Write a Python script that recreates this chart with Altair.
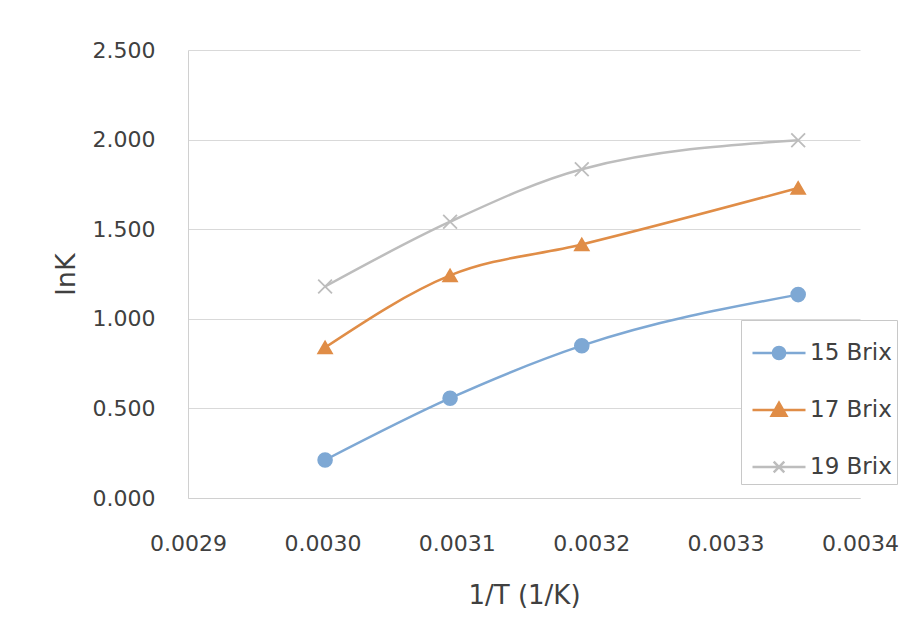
import altair as alt
import pandas as pd

# ---- data ----
inv_T = [0.003002, 0.003095, 0.003193, 0.003354]
lnk_15 = [0.212, 0.557, 0.850, 1.135]
lnk_17 = [0.840, 1.242, 1.415, 1.730]
lnk_19 = [1.180, 1.542, 1.835, 1.996]
series_names = ["15 Brix", "17 Brix", "19 Brix"]
x_ticks = [0.0029, 0.0030, 0.0031, 0.0032, 0.0033, 0.0034]
y_ticks = [0.0, 0.5, 1.0, 1.5, 2.0, 2.5]

colors = ["#7EA8D4", "#E08D47", "#BDBDBD"]

rows = []
for name, vals in zip(series_names, [lnk_15, lnk_17, lnk_19]):
    for xv, yv in zip(inv_T, vals):
        rows.append({"invT": xv, "lnK": yv, "series": name})
df = pd.DataFrame(rows)

FONT = "DejaVu Sans"
TXT = "#404040"

x_enc = alt.X(
    "invT:Q",
    scale=alt.Scale(domain=[0.0029, 0.0034], nice=False, zero=False),
    axis=alt.Axis(
        values=x_ticks, format=".4f", title="1/T (1/K)", grid=False,
        tickSize=0, labelPadding=35, labelFontSize=22, labelColor=TXT,
        labelFont=FONT, titleFont=FONT, titleFontSize=26, titleColor=TXT,
        titleFontWeight="normal", titlePadding=28,
        domainColor="#d0d0d0", labelFlush=False,
    ),
)
y_enc = alt.Y(
    "lnK:Q",
    scale=alt.Scale(domain=[0, 2.5], nice=False),
    axis=alt.Axis(
        values=y_ticks, format=".3f", title="lnK", grid=True,
        gridColor="#d9d9d9", tickSize=0, labelPadding=33, labelFontSize=22,
        labelColor=TXT, labelFont=FONT, titleFont=FONT, titleFontSize=27,
        titleColor=TXT, titleFontWeight="normal", titlePadding=12,
        domainColor="#d0d0d0",
    ),
)

color_scale = alt.Scale(domain=series_names, range=colors)

base = alt.Chart(df).encode(x=x_enc, y=y_enc)

lines = base.mark_line(interpolate="monotone", strokeWidth=2.5).encode(
    color=alt.Color("series:N", scale=color_scale, legend=None)
)

points = base.mark_point(size=190, strokeWidth=1.8, opacity=1).encode(
    fill=alt.Fill("series:N", scale=alt.Scale(domain=series_names, range=colors), legend=None),
    stroke=alt.Stroke("series:N", scale=alt.Scale(domain=series_names, range=colors), legend=None),
    shape=alt.Shape(
        "series:N",
        scale=alt.Scale(
            domain=series_names,
            range=["circle", "triangle-up", "M-1,-1L1,1M-1,1L1,-1"],
        ),
        legend=None,
    ),
)

# legend symbols: line with marker (unit = sqrt(size)/2 px)
leg_paths = [
    "M-1,0L1,0M-0.23,0A0.23,0.23,0,1,0,0.23,0A0.23,0.23,0,1,0,-0.23,0Z",
    "M-1,0L1,0M-0.28,0.22L0,-0.27L0.28,0.22Z",
    "M-1,0L1,0M-0.2,-0.2L0.2,0.2M-0.2,0.2L0.2,-0.2",
]
legend_layer = base.transform_filter("false").mark_point(opacity=1).encode(
    fill=alt.Fill("series:N", scale=alt.Scale(domain=series_names, range=colors), title=None),
    stroke=alt.Stroke("series:N", scale=alt.Scale(domain=series_names, range=colors), title=None),
    shape=alt.Shape(
        "series:N",
        scale=alt.Scale(domain=series_names, range=leg_paths),
        title=None,
        legend=alt.Legend(
            orient="none", legendX=553, legendY=270, symbolSize=2809,
            symbolStrokeWidth=2.5, padding=5, rowPadding=17, symbolOffset=5,
            labelOffset=3, labelFontSize=23, labelFont=FONT, labelColor=TXT,
            strokeColor="#c8c8c8", fillColor="white", symbolOpacity=1,
        ),
    ),
)

chart = (
    alt.layer(lines, points, legend_layer)
    .resolve_scale(color="independent", fill="independent", stroke="independent", shape="independent")
    .properties(
        width=672, height=448,
        autosize=alt.AutoSizeParams(type="none"),
        padding={"left": 188, "top": 50, "right": 57, "bottom": 120},
        background="white",
    )
    .configure_view(stroke=None)
)

chart.save("out.html", embed_options={"renderer": "svg", "actions": False})
